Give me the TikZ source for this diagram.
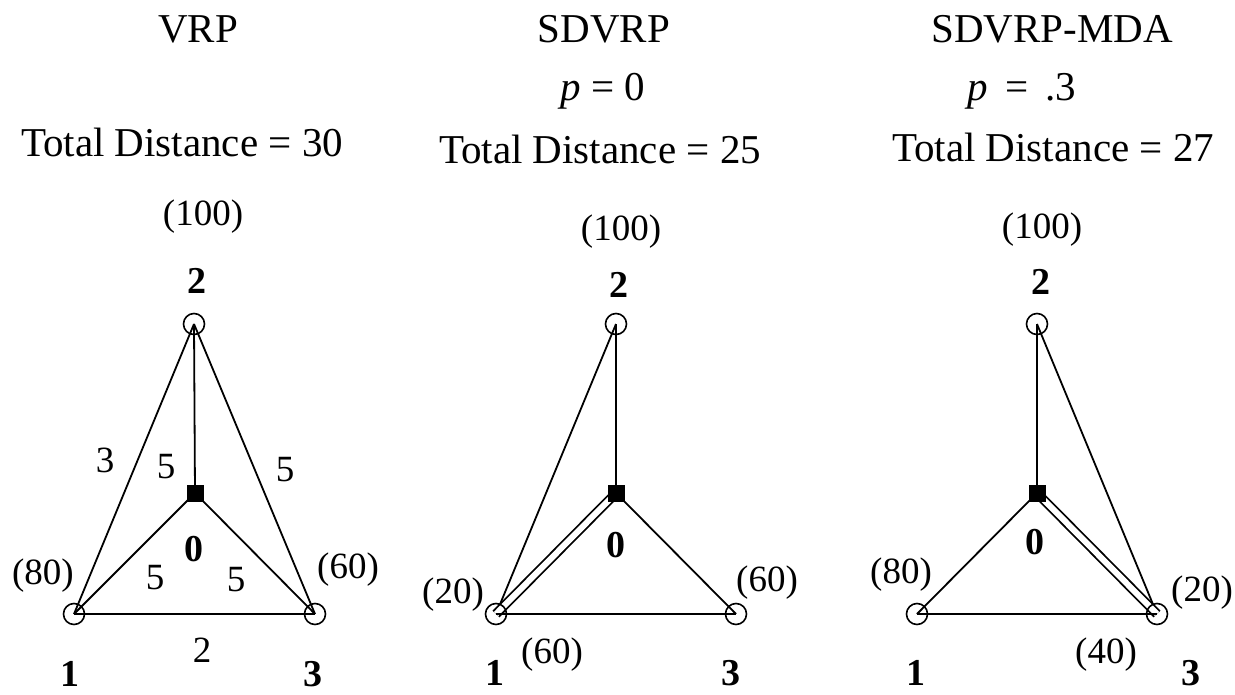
\documentclass[tikz,border=0pt]{standalone}
\usepackage{fontspec}
\setmainfont{Liberation Serif}
\pgfdeclarelayer{background}
\pgfsetlayers{background,main}

\tikzset{
  cust/.style={circle,draw,line width=1.6pt,minimum size=21pt,inner sep=0pt},
  depot/.style={rectangle,fill=black,minimum size=17pt,inner sep=0pt},
  ttl/.style={font=\fontsize{41}{44}\selectfont,inner sep=0pt},
  lab/.style={font=\fontsize{37}{40}\selectfont,inner sep=0pt},
  idx/.style={font=\fontsize{38}{40}\selectfont\bfseries,inner sep=0pt},
  route/.style={line width=1.8pt},
  splitroute/.style={line width=1.8pt,double,double distance=6pt},
}

\begin{document}
\begin{tikzpicture}[x=1pt,y=-1pt]
\useasboundingbox (0,0) rectangle (1235,694);

% VRP
\node[ttl] (ta) at (198,29) {VRP};
\node[ttl] (da) at (182,142) {Total Distance = 30};
\node[cust] (a2) at (194,324) {};
\node[depot] (a0) at (195,493) {};
\node[cust] (a1) at (74,614) {};
\node[cust] (a3) at (315,614) {};
\node[lab] (qa2) at (203,217) {(100)};
\node[lab] (qa1) at (43,576) {(80)};
\node[lab] (qa3) at (348,570) {(60)};
\node[idx] (ia2) at (197,281) {2};
\node[idx] (ia0) at (194,549) {0};
\node[idx] (ia1) at (70,674) {1};
\node[idx] (ia3) at (313,674) {3};
\node[lab] (ea21) at (105,460) {3};
\node[lab] (ea20) at (166,467) {5};
\node[lab] (ea23) at (285,470) {5};
\node[lab] (ea01) at (155,578) {5};
\node[lab] (ea03) at (236,580) {5};
\node[lab] (ea13) at (202,650) {2};
\begin{pgfonlayer}{background}
\draw[route] (a2.center) -- (a0.center);
\draw[route] (a2.center) -- (a1.center);
\draw[route] (a2.center) -- (a3.center);
\draw[route] (a0.center) -- (a1.center);
\draw[route] (a0.center) -- (a3.center);
\draw[route] (a1.center) -- (a3.center);
\end{pgfonlayer}

% SDVRP
\node[ttl] (tb) at (604,29) {SDVRP};
\node[ttl,anchor=base] (pb) at (603,100) {\textit{p} = 0};
\node[ttl] (db) at (600,149) {Total Distance = 25};
\node[cust] (b2) at (616,324) {};
\node[depot] (b0) at (616,493) {};
\node[cust] (b1) at (496,614) {};
\node[cust] (b3) at (736,614) {};
\node[lab] (qb2) at (621,232) {(100)};
\node[lab] (qb1) at (453,595) {(20)};
\node[lab] (qb3) at (767,583) {(60)};
\node[lab] (qb13) at (552,655) {(60)};
\node[idx] (ib2) at (619,285) {2};
\node[idx] (ib0) at (616,545) {0};
\node[idx] (ib1) at (495,673) {1};
\node[idx] (ib3) at (731,673) {3};
\begin{pgfonlayer}{background}
\draw[route] (b2.center) -- (b0.center);
\draw[route] (b2.center) -- (b1.center);
\draw[splitroute] (b0.center) -- (b1.center);
\draw[route] (b0.center) -- (b3.center);
\draw[route] (b1.center) -- (b3.center);
\end{pgfonlayer}

% SDVRP-MDA
\node[ttl] (tc) at (1052,29) {SDVRP-MDA};
\node[ttl,anchor=base] (pc) at (1022,100) {\textit{p}\, = \,.3};
\node[ttl] (dc) at (1053,147) {Total Distance = 27};
\node[cust] (c2) at (1037,324) {};
\node[depot] (c0) at (1037,493) {};
\node[cust] (c1) at (917,614) {};
\node[cust] (c3) at (1157,614) {};
\node[lab] (qc2) at (1042,230) {(100)};
\node[lab] (qc1) at (901,575) {(80)};
\node[lab] (qc3) at (1202,593) {(20)};
\node[lab] (qc13) at (1106,655) {(40)};
\node[idx] (ic2) at (1041,282) {2};
\node[idx] (ic0) at (1035,542) {0};
\node[idx] (ic1) at (916,673) {1};
\node[idx] (ic3) at (1191,673) {3};
\begin{pgfonlayer}{background}
\draw[route] (c2.center) -- (c0.center);
\draw[route] (c2.center) -- (c3.center);
\draw[route] (c0.center) -- (c1.center);
\draw[splitroute] (c0.center) -- (c3.center);
\draw[route] (c1.center) -- (c3.center);
\end{pgfonlayer}
\end{tikzpicture}
\end{document}
